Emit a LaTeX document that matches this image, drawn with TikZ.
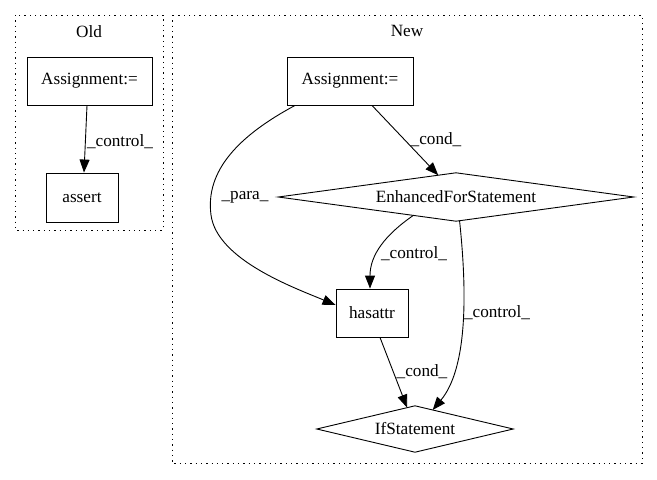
\documentclass[tikz,border=0pt]{standalone}
\usepackage{fontspec}
\setmainfont{Liberation Serif}
\usetikzlibrary{arrows.meta,calc}
\begin{document}
\begin{tikzpicture}[x=1pt,y=-1pt,
  every node/.style={font=\fontsize{17.2}{20}\selectfont},
  box/.style={draw, line width=0.9pt, inner sep=0pt, minimum height=48pt},
  dia/.style={inner sep=0pt},
  diaborder/.style={line width=0.9pt},
  edge/.style={-{Triangle[length=13pt,width=10pt]}, line width=0.9pt},
  lbl/.style={inner sep=0pt},
  cluster/.style={draw, line width=1pt, dash pattern=on 1.3pt off 4pt}]
\useasboundingbox[fill=white] (0,0) rectangle (657,480);
% clusters
\draw[cluster] (15,15) rectangle (163,230);
\draw[cluster] (172,15) rectangle (642,463);
\node[lbl] (oldlbl) at (89,32) {Old};
\node[lbl] (newlbl) at (407,31) {New};
% old nodes
\node[box, minimum width=125pt] (oa) at (89.5,81) {Assignment:=};
\node[box, minimum width=72pt, minimum height=49pt] (as) at (82,197.5) {assert};
% new nodes
\node[box, minimum width=126pt] (na) at (350,81) {Assignment:=};
\node[dia, minimum width=355pt, minimum height=48pt] (efs) at (456,197) {EnhancedForStatement};
\draw[diaborder] (efs.west) -- (efs.north) -- (efs.east) -- (efs.south) -- cycle;
\node[box, minimum width=72pt] (ha) at (372,313) {hasattr};
\node[dia, minimum width=196pt, minimum height=46pt] (ifs) at (415,429) {IfStatement};
\draw[diaborder] (ifs.west) -- (ifs.north) -- (ifs.east) -- (ifs.south) -- cycle;
% edges
\draw[edge] ([xshift=-2.5pt]oa.south) -- ([xshift=2pt]as.north);
\node[lbl] (l1) at (120,142) {\_control\_};
\draw[edge] ([xshift=22pt]na.south) -- ($(efs.north)!0.1!(efs.west)$);
\node[lbl] (l2) at (436,140) {\_cond\_};
\draw[edge] ([xshift=-55pt]na.south) .. controls (240,135) and (205,170) .. (211,215)
  .. controls (217,260) and (295,288) .. ([yshift=8pt]ha.west);
\node[lbl] (l3) at (245,197) {\_para\_};
\draw[edge] ($(efs.south)!0.24!(efs.west)$) .. controls (385,235) and (370,255) .. ([xshift=-2pt]ha.north);
\node[lbl] (l4) at (414,254) {\_control\_};
\draw[edge] ($(efs.south)!0.02!(efs.east)$) .. controls (468,300) and (466,370) .. ($(ifs.north)!0.18!(ifs.east)$);
\node[lbl] (l5) at (497,313) {\_control\_};
\draw[edge] ([xshift=8pt]ha.south) -- ($(ifs.north)!0.08!(ifs.west)$);
\node[lbl] (l6) at (422,372) {\_cond\_};
\end{tikzpicture}
\end{document}
